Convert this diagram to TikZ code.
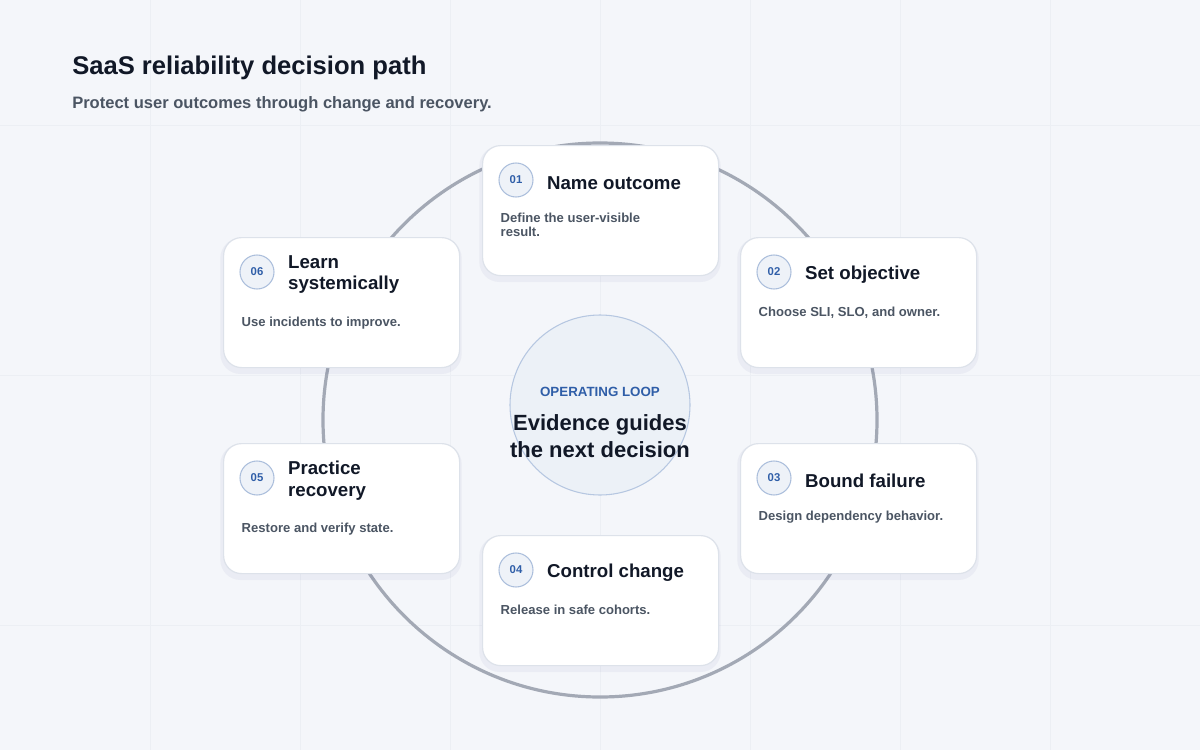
\documentclass[tikz,border=0pt]{standalone}
\usepackage{fontspec}
\setmainfont{Liberation Sans}
\usetikzlibrary{positioning,calc}
\definecolor{ink}{HTML}{111827}
\definecolor{muted}{HTML}{4B5563}
\definecolor{accent}{HTML}{2F5EA8}
\definecolor{ring}{HTML}{A3A9B5}
\definecolor{bg}{HTML}{F4F6FA}
\definecolor{edge}{HTML}{DDE2EA}
\tikzset{
    card/.style={
        rectangle,
        rounded corners=13.5pt,
        draw=edge,
        line width=0.9pt,
        fill=white,
        minimum width=177pt,
        minimum height=97.5pt,
        anchor=north west,
    },
    shade/.style={
        rectangle,
        rounded corners=15pt,
        fill=black!60!blue,
        opacity=0.04,
        minimum width=181pt,
        minimum height=102pt,
    },
    num/.style={
        circle,
        draw=accent!40,
        line width=0.8pt,
        fill=accent!8,
        minimum size=25.5pt,
        inner sep=0pt,
        font=\fontsize{8.5}{10}\selectfont\bfseries,
        text=accent,
    },
    steptitle/.style={
        anchor=west,
        align=left,
        inner sep=0pt,
        font=\fontsize{14}{15.8}\selectfont\bfseries,
        text=ink,
    },
    note/.style={
        anchor=north west,
        align=left,
        inner sep=0pt,
        font=\fontsize{9.8}{10.5}\selectfont\bfseries,
        text=muted,
    },
}
% card: name, x, y (top left, px), number, title, text
\newcommand{\stepcard}[6]{
    \node [shade] at ($(#2+118,#3+69)$) {};
    \node [card] (#1) at (#2,#3) {};
    \node [num] (#1n) at ($(#2+34,#3+35)$) {#4};
    \node [steptitle,right=10pt of #1n.east,yshift=-2pt] (#1t) {#5};
    \node [note] (#1d) at ($(#1n.west |- #1t.south)+(2,23)$) {#6};
}

\begin{document}
\begin{tikzpicture}[x=0.75pt,y=-0.75pt]
    \fill [bg] (0,0) rectangle (1200,750);
    \useasboundingbox (0,0) rectangle (1200,750);
    \foreach \gx in {150,300,...,1050}
        \draw [edge!35!bg,line width=0.6pt] (\gx,0) -- (\gx,750);
    \foreach \gy in {125,375,625}
        \draw [edge!35!bg,line width=0.6pt] (0,\gy) -- (1200,\gy);

    \node [anchor=west,inner sep=0pt,text=ink,font=\fontsize{19.2}{22}\selectfont\bfseries] (head) at (72,68) {SaaS reliability decision path};
    \node [anchor=west,inner sep=0pt,text=muted,font=\fontsize{12.4}{14}\selectfont\bfseries] (sub) at (72,104) {Protect user outcomes through change and recovery.};

    \draw [ring,line width=2.4pt] (600,420) circle [radius=277];

    \node [circle,draw=accent!35,line width=0.8pt,fill=accent!9,minimum size=135pt] (hub) at (600,405) {};
    \node [text=accent,font=\fontsize{10}{12}\selectfont\bfseries] (hubtag) at (600,392) {OPERATING LOOP};
    \node [text=ink,align=center,font=\fontsize{16.5}{20}\selectfont\bfseries] (hubtext) at (600,436) {Evidence guides\\the next decision};

    \stepcard{c1}{482}{145}{01}{Name outcome}{Define the user-visible\\result.}
    \stepcard{c2}{740}{237}{02}{Set objective}{Choose SLI, SLO, and owner.}
    \stepcard{c3}{740}{443}{03}{Bound failure}{Design dependency behavior.}
    \stepcard{c4}{482}{535}{04}{Control change}{Release in safe cohorts.}
    \stepcard{c5}{223}{443}{05}{Practice\\recovery}{Restore and verify state.}
    \stepcard{c6}{223}{237}{06}{Learn\\systemically}{Use incidents to improve.}
\end{tikzpicture}
\end{document}
